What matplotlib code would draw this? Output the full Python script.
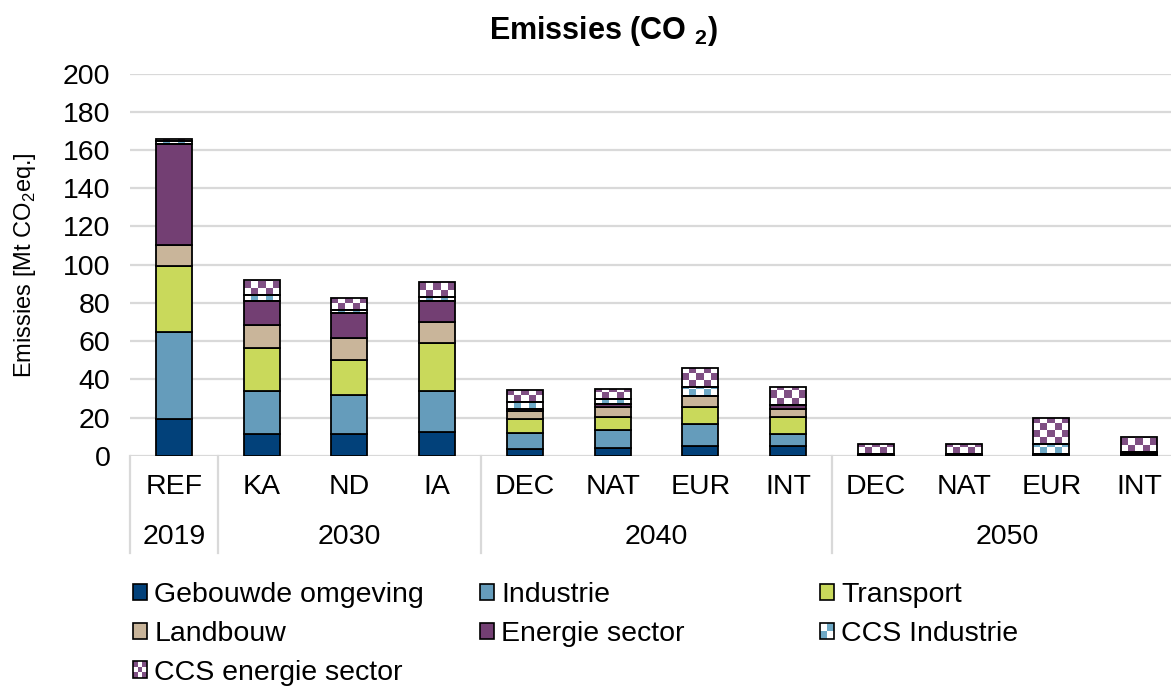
import numpy as np
from matplotlib import pyplot as plt
from matplotlib.patches import Rectangle
from matplotlib.legend_handler import HandlerBase

plt.rcParams['font.family'] = ['Liberation Sans', 'DejaVu Sans']
plt.rcParams['mathtext.fontset'] = 'custom'
plt.rcParams['mathtext.rm'] = 'Liberation Sans'
plt.rcParams['mathtext.bf'] = 'Liberation Sans:bold'

scenarios = ["REF", "KA", "ND", "IA", "DEC", "NAT", "EUR", "INT", "DEC", "NAT", "EUR", "INT"]
years = ["2019", "2030", "2040", "2050"]
year_sizes = [1, 3, 4, 4]

gebouwde = [19.0, 11.2, 11.2, 12.6, 3.3, 4.2, 5.1, 5.1, 0.2, 0.2, 0.2, 0.3]
industrie = [45.9, 22.8, 20.6, 21.4, 8.6, 9.2, 11.3, 6.1, 0.3, 0.3, 0.2, 0.4]
transport = [34.4, 22.4, 18.3, 24.8, 7.5, 6.7, 9.3, 9.2, 0.1, 0.1, 0.1, 0.2]
landbouw = [10.8, 12.2, 11.5, 11.2, 3.8, 5.6, 5.4, 4.2, 0.2, 0.2, 0.2, 0.3]
energie = [53.1, 12.2, 13.3, 10.8, 1.4, 1.4, 0.3, 1.9, 0.2, 0.2, 0.2, 0.3]
ccs_industrie = [1.5, 3.5, 1.4, 2.4, 3.7, 2.6, 4.4, 0.2, 0.0, 0.0, 5.2, 0.2]
ccs_energie = [1.0, 7.7, 6.4, 7.9, 6.1, 5.4, 9.9, 9.5, 5.2, 5.2, 13.8, 8.2]

series = [
    ("Gebouwde omgeving", gebouwde, "#02417a", False),
    ("Industrie", industrie, "#659cbb", False),
    ("Transport", transport, "#c9d95b", False),
    ("Landbouw", landbouw, "#c9b59a", False),
    ("Energie sector", energie, "#733f73", False),
    ("CCS Industrie", ccs_industrie, "#6ea9c6", True),
    ("CCS energie sector", ccs_energie, "#7f4f83", True),
]

W, H = 1171, 686
fig = plt.figure(figsize=(W / 100, H / 100), dpi=100)
ax = fig.add_axes([130 / W, 230.3 / H, 12 * 87.75 / W, 382 / H])
ax.set_xlim(-0.5, 11.5)
ax.set_ylim(0, 200)

x = np.arange(len(scenarios))
px_per_unit = 382 / 200
cell = 7.0


def checker(patch, color):
    x0, y0 = patch.get_x(), patch.get_y()
    w, h = patch.get_width(), patch.get_height()
    if h <= 0:
        return
    cols = max(2, int(round(w * 87.75 / cell)))
    rows = int(np.ceil(h * px_per_unit / cell)) + 1
    cell_h = cell / px_per_unit
    rgb_on = np.array(plt.matplotlib.colors.to_rgb(color))
    img = np.ones((rows, cols, 3))
    for i in range(rows):
        for j in range(cols):
            if (i + j) % 2:
                img[i, j] = rgb_on
    im = ax.imshow(img, extent=(x0, x0 + w, y0, y0 + rows * cell_h), origin='lower',
                   aspect='auto', interpolation='nearest', zorder=2)
    im.set_clip_path(patch)


bottom = np.zeros(len(scenarios))
for name, vals, color, pattern in series:
    vals = np.array(vals)
    if pattern:
        bars = ax.bar(x, vals, 0.41, bottom=bottom, facecolor='none', edgecolor='black',
                      linewidth=1.3, zorder=3)
        for p in bars.patches:
            checker(p, color)
    else:
        ax.bar(x, vals, 0.41, bottom=bottom, color=color, edgecolor='black',
               linewidth=1.3, zorder=3)
    bottom += vals

ax.set_xlim(-0.5, 11.5)
ax.set_ylim(0, 200)
ax.set_yticks(np.arange(0, 201, 20))
ax.tick_params(axis='y', length=0, pad=14, labelsize=20.5)
ax.set_xticks([])
ax.yaxis.grid(True, color='#d9d9d9', linewidth=1.6)
ax.set_axisbelow(True)
for spine in ax.spines.values():
    spine.set_visible(False)

# categorie-as met twee niveaus
trans = ax.get_xaxis_transform()
for xi, lab in zip(x, scenarios):
    ax.text(xi, -0.082, lab, transform=trans, ha='center', va='center', fontsize=20.5)
start = -0.5
ax.plot([start, start], [0, -0.255], transform=trans, color='#d9d9d9', lw=1.6, clip_on=False)
for yr, n in zip(years, year_sizes):
    ax.text(start + n / 2, -0.213, yr, transform=trans, ha='center', va='center', fontsize=20.5)
    start += n
    ax.plot([start, start], [0, -0.255], transform=trans, color='#d9d9d9', lw=1.6, clip_on=False)

ax.set_ylabel("Emissies [Mt CO$_2$eq.]", fontsize=17)
ax.yaxis.set_label_coords(-0.087, 0.5)

fig.text(603 / W, 1 - 31 / H, r"Emissies (CO $_\mathbf{2}$)", ha='center', va='center', fontsize=22,
         fontweight='bold')


class CheckerHandler(HandlerBase):
    def __init__(self, color, n):
        super().__init__()
        self.color = color
        self.n = n

    def create_artists(self, legend, orig_handle, xdescent, ydescent, width, height, fontsize, trans):
        arts = []
        n = self.n
        for i in range(n):
            for j in range(n):
                c = self.color if (i + j) % 2 == 0 else 'white'
                arts.append(Rectangle((-xdescent + j * width / n, -ydescent + i * height / n),
                                      width / n, height / n, facecolor=c, edgecolor='none',
                                      transform=trans))
        arts.append(Rectangle((-xdescent, -ydescent), width, height, facecolor='none',
                              edgecolor='black', linewidth=1.2, transform=trans))
        return arts


handles = {}
handler_map = {}
for name, vals, color, pattern in series:
    h = Rectangle((0, 0), 1, 1, facecolor=color, edgecolor='black', linewidth=1.2)
    handles[name] = h
    if pattern:
        handler_map[h] = CheckerHandler(color, 2 if name == "CCS Industrie" else 3)

legend_cols = [
    (133, ["Gebouwde omgeving", "Landbouw", "CCS energie sector"]),
    (480, ["Industrie", "Energie sector"]),
    (820, ["Transport", "CCS Industrie"]),
]
for xpos, names in legend_cols:
    fig.legend([handles[n] for n in names], names, loc='upper left',
               bbox_to_anchor=(xpos / W, 1 - 582 / H), frameon=False, fontsize=20.5,
               handlelength=0.5, handleheight=0.5, handletextpad=0.25, labelspacing=0.45,
               borderpad=0, borderaxespad=0, handler_map=handler_map)

plt.savefig("out.png", dpi=100)
